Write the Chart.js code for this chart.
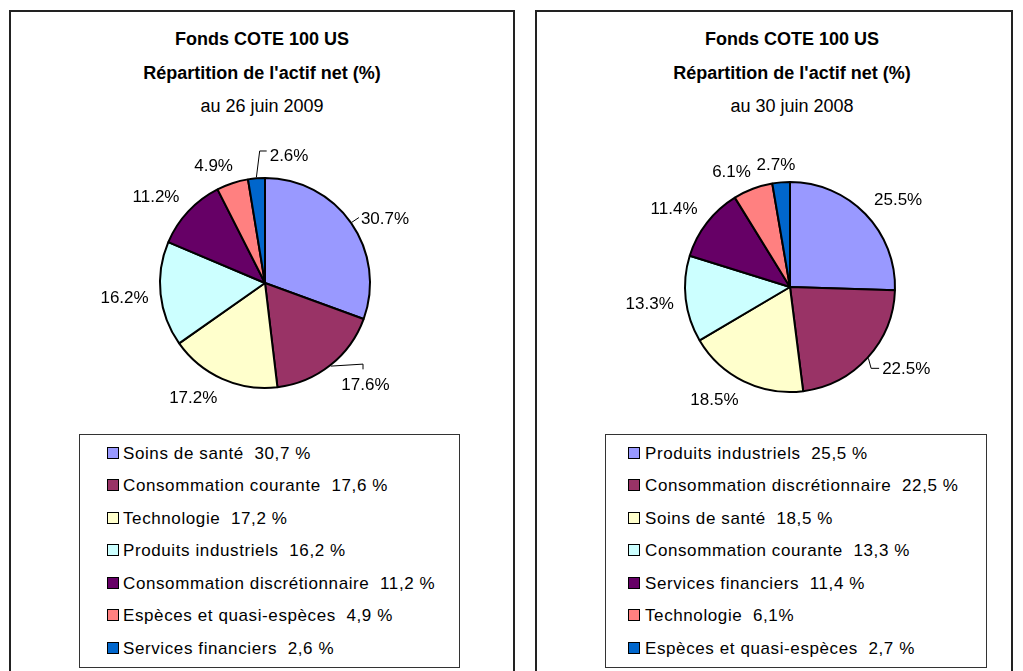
<!DOCTYPE html>
<html><head><meta charset="utf-8">
<script src="https://cdn.jsdelivr.net/npm/chart.js@4"></script>
<style>
html,body{margin:0;padding:0;background:#fff;width:1023px;height:671px;overflow:hidden;font-family:"Liberation Sans",Arial,sans-serif;}
.panel{position:absolute;border:2px solid #222;box-sizing:border-box;}
.t{position:absolute;white-space:nowrap;transform:translateX(-50%);color:#000;line-height:normal;margin:0}
.legend{position:absolute;border:1px solid #333;box-sizing:border-box;background:#fff}
.row{position:absolute;white-space:pre;font-size:17px;letter-spacing:0.6px;color:#000;line-height:normal}
.sw{position:absolute;width:10px;height:10px;border:1.5px solid #000}
canvas{position:absolute}
</style></head><body>
<div class="panel" style="left:9px;top:10px;width:506px;height:700px"></div>
<div class="panel" style="left:535px;top:10px;width:478px;height:700px"></div>
<div id="titles"></div>
<canvas id="pie2009" width="460" height="320" style="left:35px;top:123px"></canvas>
<canvas id="pie2008" width="460" height="320" style="left:560px;top:127px"></canvas>
<div id="legend2009" class="legend" style="left:79px;top:434px;width:381px;height:234px"></div>
<div id="legend2008" class="legend" style="left:605px;top:434px;width:382px;height:234px"></div>
<script>
// ---- data ----
const titleLine1 = 'Fonds COTE 100 US';
const titleLine2 = "Répartition de l'actif net (%)";
const date2009 = 'au 26 juin 2009';
const date2008 = 'au 30 juin 2008';

const labels2009 = ['Soins de santé','Consommation courante','Technologie','Produits industriels','Consommation discrétionnaire','Espèces et quasi-espèces','Services financiers'];
const values2009 = [30.7,17.6,17.2,16.2,11.2,4.9,2.6];
const legendText2009 = ['30,7 %','17,6 %','17,2 %','16,2 %','11,2 %','4,9 %','2,6 %'];

const labels2008 = ['Produits industriels','Consommation discrétionnaire','Soins de santé','Consommation courante','Services financiers','Technologie','Espèces et quasi-espèces'];
const values2008 = [25.5,22.5,18.5,13.3,11.4,6.1,2.7];
const legendText2008 = ['25,5 %','22,5 %','18,5 %','13,3 %','11,4 %','6,1%','2,7 %'];

const sliceColors = ['#9999FF','#993366','#FFFFCC','#CCFFFF','#660066','#FF8080','#0066CC'];

// ---- titles ----
function addTitle(cx, date){
  const box = document.getElementById('titles');
  const l = [[titleLine1,'bold 18px',28.7],[titleLine2,'bold 18px',62.7],[date,'18px',95.7]];
  l.forEach(([txt,f,top])=>{
    const d=document.createElement('div'); d.className='t';
    d.style.font=f+' "Liberation Sans", Arial, sans-serif';
    d.style.left=cx+'px'; d.style.top=top+'px'; d.textContent=txt; box.appendChild(d);
  });
}
addTitle(262, date2009);
addTitle(792, date2008);

// ---- legends ----
function addLegend(id, labels, texts, swLeft, textLeft){
  const box=document.getElementById(id);
  labels.forEach((lab,i)=>{
    const cy = 18 + i*32.5;
    const sw=document.createElement('div'); sw.className='sw';
    sw.style.background=sliceColors[i]; sw.style.left=swLeft+'px'; sw.style.top=(cy-6.5)+'px';
    box.appendChild(sw);
    const r=document.createElement('div'); r.className='row';
    r.style.left=textLeft+'px'; r.style.top=(cy+6-15.4)+'px';
    r.textContent=lab+'  '+texts[i]; box.appendChild(r);
  });
}
addLegend('legend2009', labels2009, legendText2009, 27, 43);
addLegend('legend2008', labels2008, legendText2008, 22, 39);

// ---- outside labels plugin ----
const outLabels = {
  id:'outLabels',
  afterDatasetsDraw(chart, args, opts){
    const ctx=chart.ctx, meta=chart.getDatasetMeta(0);
    const data=chart.data.datasets[0].data;
    ctx.save();
    ctx.font='17px "Liberation Sans", Arial, sans-serif';
    ctx.fillStyle='#000'; ctx.strokeStyle='#000'; ctx.lineWidth=1;
    ctx.textBaseline='alphabetic'; ctx.textAlign='left';
    meta.data.forEach((arc,i)=>{
      const p=arc.getProps(['x','y','startAngle','endAngle','outerRadius'],true);
      const mid=(p.startAngle+p.endAngle)/2;
      const ux=Math.cos(mid), uy=Math.sin(mid);
      const text=data[i].toFixed(1)+'%';
      const w=ctx.measureText(text).width, h=14;
      const R=p.outerRadius+1;
      const ax=p.x+ux*(R+opts.pad), ay=p.y+uy*(R+opts.pad);
      const sx=Math.max(-1,Math.min(1,ux*2.5)), sy=Math.max(-1,Math.min(1,uy*2.5));
      const n=opts.nudge[i]||[0,0];
      const cx=ax+sx*w/2+n[0], cy=ay+sy*h/2+n[1];
      const lx=cx-w/2;
      ctx.fillText(text, lx, cy+17*0.358);
      const L=opts.leaders[i];
      if(L){
        const ex=p.x+ux*R, ey=p.y+uy*R;
        ctx.beginPath(); ctx.moveTo(ex,ey);
        if(L[0]==='straight'){ ctx.lineTo(lx-2, cy); }
        else if(L[0]==='dh'){ ctx.lineTo(lx-L[1], cy+L[2]); ctx.lineTo(lx-3, cy+L[2]); }
        else if(L[0]==='hv'){ const vx=lx+w*0.45; ctx.lineTo(vx, ey-2); ctx.lineTo(vx, cy-h/2-8); }
        ctx.stroke();
      }
    });
    ctx.restore();
  }
};

function makePie(id, labels, values, nudge, leaders){
  new Chart(document.getElementById(id), {
    type:'pie',
    data:{labels, datasets:[{data:values, backgroundColor:sliceColors, borderColor:'#000', borderWidth:2, hoverOffset:0}]},
    options:{responsive:false, animation:false, events:[],
      layout:{padding:{left:124,right:124,top:54,bottom:54}},
      plugins:{legend:{display:false}, tooltip:{enabled:false},
        outLabels:{pad:11, nudge, leaders}}},
    plugins:[outLabels]
  });
}

makePie('pie2009', labels2009, values2009,
  {0:[0,8.6],1:[3.7,2.6],6:[37.5,-4.4]},
  {0:['straight'],1:['hv'],6:['dh',10,-4]});
makePie('pie2008', labels2008, values2008,
  {1:[5.6,-4.4]},
  {1:['dh',11,0]});
</script>
</body></html>
